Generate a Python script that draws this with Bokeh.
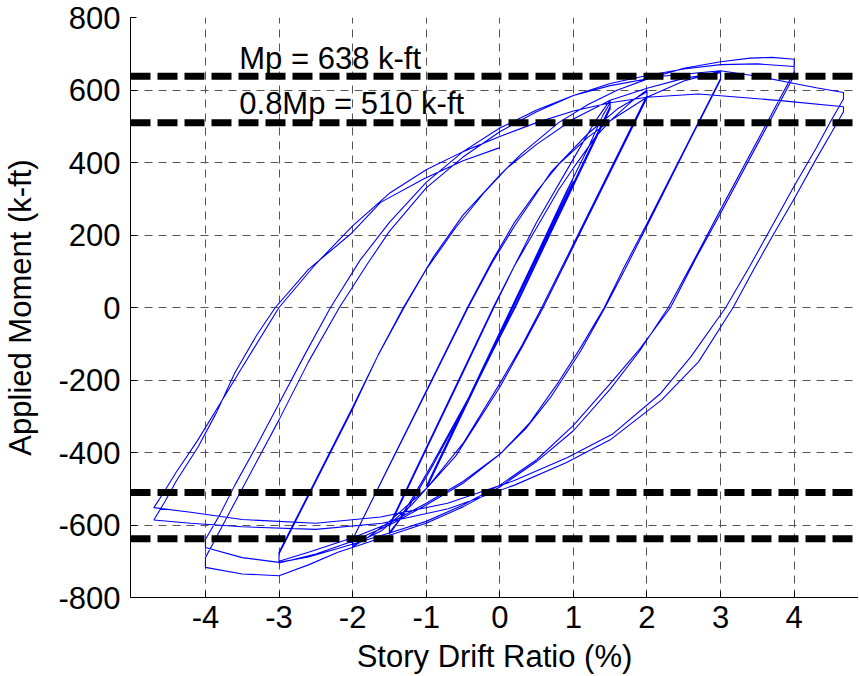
from bokeh.plotting import figure
from bokeh.models import Range1d, FixedTicker, Span, Label
from bokeh.embed import file_html
from bokeh.resources import INLINE

# ---------------- data (story drift %, applied moment k-ft) ----------------
elastic_drift = [0.18, 0.375, -0.375, 0.375, -0.375, 0.5, -0.5, 0.5, -0.5,
                 0.75, -0.75, 0.75, -0.75, 1.0, -1.0, 1.0, -1.0]
elastic_moment = [0, 83, -236, 90, -230, 136, -289, 142, -283,
                  242, -395, 250, -388, 349, -501, 358, -494]

cyc15_drift = [-0.6, 0.2, 0.9, 1.2, 1.4, 1.5, 1.5, 1.1, 0.6, 0.21, -0.4, -0.9, -1.2, -1.4, -1.5, -1.5,
               -1.2, -0.6, -0.09, 0.5, 1.0, 1.3, 1.5, 1.5, 1.0, 0.2, -0.4, -0.9, -1.25, -1.5, -1.5]
cyc15_moment = [-325, 15, 318, 440, 530, 565, 548, 378, 166, 0, -240, -425, -530, -595, -620, -600,
                -472, -217, 0, 235, 410, 515, 572, 555, 343, 0, -245, -432, -555, -625, -605]

cyc20_drift = [-1.0, -0.5, -0.08, 0.2, 0.5, 0.8, 1.0, 1.3, 1.5, 1.8, 2.0, 2.0,
               1.5, 1.0, 0.57, 0.3, 0.0, -0.5, -1.0, -1.5, -1.8, -2.0, -2.0,
               -1.62, -1.04, -0.43, -0.1, 0.2, 0.7, 1.2, 1.6, 2.0, 2.0,
               1.5, 1.0, 0.59, 0.3, 0.0, -0.6, -1.2, -1.6, -2.0, -2.0]
cyc20_moment = [-392, -180, 0, 115, 220, 325, 385, 470, 515, 570, 600, 585,
                380, 175, 0, -105, -210, -375, -500, -590, -635, -660, -640,
                -485, -250, 0, 125, 225, 375, 480, 548, 595, 578,
                373, 168, 0, -110, -220, -410, -545, -615, -655, -640]

cyc30_drift = [-1.6, -1.0, -0.44, -0.1, 0.2, 0.5, 0.8, 1.2, 1.5, 2.0, 2.5, 3.0, 3.0,
               2.5, 2.0, 1.7, 1.42, 1.1, 0.8, 0.4, 0.0, -0.5, -1.0, -1.5, -2.0, -2.5, -3.0, -3.0,
               -2.5, -2.0, -1.65, -1.3, -1.0, -0.6, -0.2, 0.1, 0.5, 1.0, 1.5, 2.0, 2.5, 3.0, 3.0,
               2.5, 2.0, 1.7, 1.43, 1.1, 0.7, 0.35, 0.0, -0.5, -1.0, -1.5, -2.0, -2.6, -3.0, -3.0]
cyc30_moment = [-476, -230, 0, 130, 235, 320, 395, 470, 515, 580, 625, 652, 632,
                432, 232, 115, 0, -110, -205, -320, -405, -485, -545, -600, -645, -680, -705, -680,
                -480, -280, -130, 0, 105, 220, 320, 385, 450, 520, 572, 605, 632, 648, 628,
                428, 225, 105, 0, -120, -245, -335, -405, -480, -540, -595, -635, -675, -700, -675]

cyc40_drift = [-2.7, -2.5, -2.0, -1.65, -1.31, -0.9, -0.5, 0.0, 0.3, 0.8, 1.2, 1.6, 2.0, 2.5, 3.0, 3.4, 3.7, 4.0, 4.0,
               3.75, 3.5, 3.0, 2.65, 2.29, 1.9, 1.5, 1.0, 0.5, 0.0, -0.5, -1.0, -1.5, -2.2, -2.6, -3.0, -3.5, -4.0, -4.0,
               -3.75, -3.5, -3.0, -2.6, -2.18, -1.8, -1.5, -1.0, -0.5, 0.0, 0.5, 1.0, 1.5, 2.0, 2.5, 3.0, 3.5, 4.0, 4.0,
               3.75, 3.5, 3.0, 2.65, 2.32, 1.9, 1.5, 1.0, 0.5, 0.0, -0.5, -1.0, -1.5, -2.2, -2.6, -3.0, -3.5, -4.0, -4.0]
cyc40_moment = [-555, -475, -275, -130, 0, 140, 255, 365, 425, 510, 560, 600, 630, 660, 678, 688, 690, 685, 650,
                555, 460, 270, 135, 0, -120, -225, -340, -425, -495, -550, -595, -628, -675, -710, -740, -735, -717, -690,
                -595, -500, -310, -150, 0, 120, 210, 330, 415, 485, 540, 585, 618, 640, 658, 670, 672, 665, 640,
                545, 450, 260, 130, 0, -115, -210, -325, -420, -490, -545, -590, -622, -665, -688, -703, -690, -662, -640]

cyc47_drift = [-3.8, -3.6, -3.3, -3.0, -2.65, -2.3, -1.9, -1.5, -1.0, -0.5, 0.0, 0.5, 1.0, 1.5, 2.2, 3.0, 3.5,
               3.95, 4.3, 4.67, 4.67,
               4.5, 4.3, 4.0, 3.7, 3.4, 3.07, 2.6, 2.18, 1.54, 0.92, 0.19, -0.71, -1.62, -2.5, -3.5, -4.2, -4.7,
               -4.55, -4.4, -4.11, -3.8, -3.5, -3.0, -2.5, -2.0, -1.5, -1.0, -0.5, 0.0, 0.5, 1.0, 1.5, 2.0,
               2.7, 3.0, 3.85, 4.67, 4.67,
               4.5, 4.3, 4.0, 3.7, 3.45, 3.17, 2.7, 2.2, 1.5, 0.9, 0.2, -0.7, -1.6, -2.5, -3.5, -4.2, -4.7]
cyc47_moment = [-570, -490, -380, -265, -130, 0, 130, 235, 345, 430, 495, 545, 585, 612, 638, 653, 638,
                620, 606, 593, 575,
                515, 440, 335, 225, 115, 0, -135, -238, -348, -414, -478, -540, -578, -595, -585, -565, -552,
                -505, -455, -368, -265, -165, 0, 120, 225, 315, 380, 430, 472, 510, 542, 565, 580,
                589, 584, 570, 554, 540,
                480, 410, 300, 195, 105, 0, -150, -255, -365, -428, -490, -555, -595, -612, -605, -595, -586]

final_drift = [-4.55, -4.4, -4.1, -3.85, -3.6, -3.3, -3.05, -2.6, -2.03, -1.62, -1.03, -0.5, 0.0]
final_moment = [-535, -480, -385, -290, -180, -75, 0, 105, 202, 290, 355, 405, 441]

mp_value = 638
mp08_value = 510
ref_levels = [mp_value, mp08_value, -mp08_value, -mp_value]

x_ticks = [-4, -3, -2, -1, 0, 1, 2, 3, 4]
y_ticks = [-800, -600, -400, -200, 0, 200, 400, 600, 800]

drift = elastic_drift + cyc15_drift + cyc20_drift + cyc30_drift + cyc40_drift + cyc47_drift + final_drift
moment = elastic_moment + cyc15_moment + cyc20_moment + cyc30_moment + cyc40_moment + cyc47_moment + final_moment

FONT = "Liberation Sans"

p = figure(width=858, height=676, output_backend="svg", toolbar_location=None,
           x_range=Range1d(-5.018, 4.874), y_range=Range1d(-800, 800),
           min_border_left=130, min_border_right=0, min_border_top=17, min_border_bottom=79)
p.outline_line_color = None
p.background_fill_color = "white"
p.border_fill_color = "white"

for ax in (p.xaxis[0], p.yaxis[0]):
    ax.axis_line_color = "black"
    ax.axis_line_width = 1
    ax.major_tick_in = 6
    ax.major_tick_out = 0
    ax.major_tick_line_color = "black"
    ax.minor_tick_line_color = None
    ax.major_label_text_font = FONT
    ax.major_label_text_font_size = "31px"
    ax.major_label_text_color = "black"
    ax.axis_label_text_font = FONT
    ax.axis_label_text_font_size = "31px"
    ax.axis_label_text_font_style = "normal"
    ax.axis_label_text_color = "black"

p.xaxis.ticker = FixedTicker(ticks=x_ticks)
p.yaxis.ticker = FixedTicker(ticks=y_ticks)
p.xaxis.major_label_overrides = {t: str(t) for t in x_ticks}
p.yaxis.major_label_overrides = {t: str(t) for t in y_ticks}
p.xaxis.major_label_standoff = 8
p.yaxis.major_label_standoff = 10

p.yaxis.axis_label = "Applied Moment (k-ft)"
p.yaxis.axis_label_standoff = 17
p.xaxis.axis_label = "Story Drift Ratio (%)"
p.xaxis.axis_label_standoff = 8

for g in (p.xgrid[0], p.ygrid[0]):
    g.grid_line_color = "#555555"
    g.grid_line_width = 1
    g.grid_line_dash = "8 6"

p.line(drift, moment, line_color="#0000ff", line_width=1.1)

for lv in ref_levels:
    p.add_layout(Span(location=lv, dimension="width", line_color="black",
                      line_width=7, line_dash="20 7"))

p.add_layout(Label(x=-3.54, y=687, text="Mp = %d k-ft" % mp_value, text_font=FONT,
                   text_font_size="31px", text_color="black", text_baseline="middle"))
p.add_layout(Label(x=-3.54, y=562, text="0.8Mp = %d k-ft" % mp08_value, text_font=FONT,
                   text_font_size="31px", text_color="black", text_baseline="middle"))

open("out.html", "w").write(file_html(p, INLINE))
